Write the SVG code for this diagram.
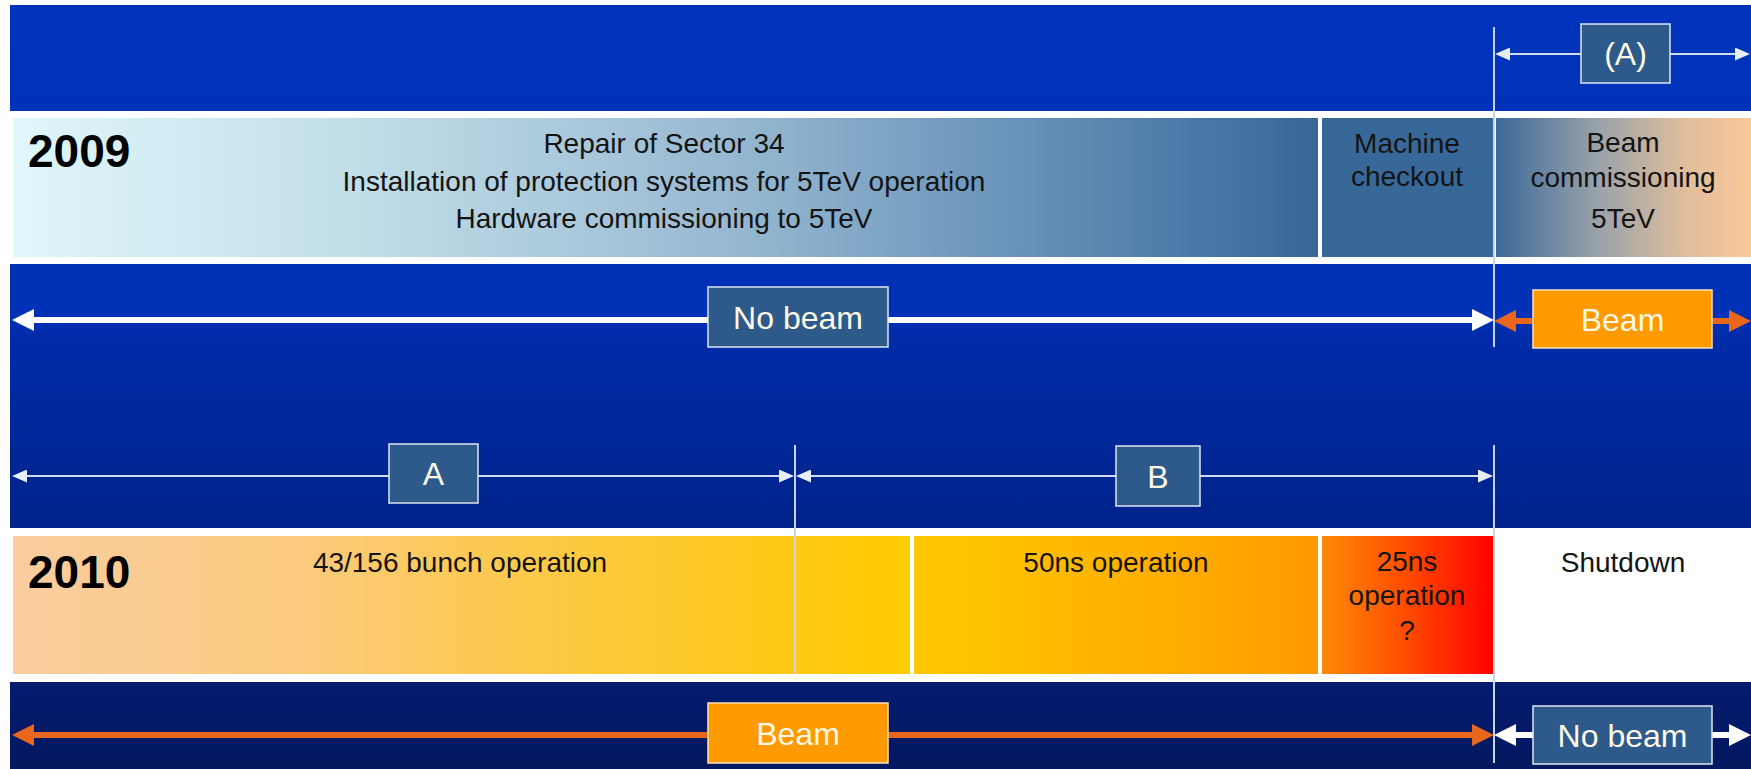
<svg xmlns="http://www.w3.org/2000/svg" width="1751" height="769" viewBox="0 0 1751 769">
<defs>
<style>
.t{font-family:"Liberation Sans",Arial,sans-serif;font-size:28px;fill:#141414;text-anchor:middle}
.yr{font-family:"Liberation Sans",Arial,sans-serif;font-size:46px;font-weight:bold;fill:#000}
.lb{font-family:"Liberation Sans",Arial,sans-serif;font-size:32px;fill:#fff8e6;text-anchor:middle}
.bx{fill:#2d5a8a;stroke:#dde6ee;stroke-width:1.5}
.ob{fill:#ff9a00;stroke:#ffe2b8;stroke-width:1.5}
.thin{stroke:#d0dcea;stroke-width:2;fill:none}
.vl{stroke:#c6d4e6;stroke-width:2}
.wt{stroke:#ffffff;stroke-width:6}
.or{stroke:#e9661d;stroke-width:6}
</style>
<linearGradient id="bg" x1="0" y1="0" x2="0" y2="1">
<stop offset="0" stop-color="#0033bb"/>
<stop offset="0.41" stop-color="#0031b6"/>
<stop offset="0.43" stop-color="#002caa"/>
<stop offset="0.62" stop-color="#002592"/>
<stop offset="0.69" stop-color="#01228a"/>
<stop offset="0.89" stop-color="#041c70"/>
<stop offset="1" stop-color="#04185f"/>
</linearGradient>
<linearGradient id="g1" x1="0" y1="0" x2="1" y2="0">
<stop offset="0" stop-color="#e0f7fb"/>
<stop offset="0.25" stop-color="#c3dfe9"/>
<stop offset="0.45" stop-color="#a7c6da"/>
<stop offset="0.6" stop-color="#8db1cc"/>
<stop offset="0.76" stop-color="#6b94bb"/>
<stop offset="0.91" stop-color="#4a78a6"/>
<stop offset="1" stop-color="#386797"/>
</linearGradient>
<linearGradient id="g3" x1="0" y1="0" x2="1" y2="0">
<stop offset="0" stop-color="#3c6a99"/>
<stop offset="0.4" stop-color="#9aa2aa"/>
<stop offset="0.75" stop-color="#e2be9c"/>
<stop offset="1" stop-color="#f8c898"/>
</linearGradient>
<linearGradient id="h1" x1="0" y1="0" x2="1" y2="0">
<stop offset="0" stop-color="#f9cd9f"/>
<stop offset="0.3" stop-color="#fbca80"/>
<stop offset="0.6" stop-color="#fdc945"/>
<stop offset="0.85" stop-color="#ffc918"/>
<stop offset="1" stop-color="#ffcc00"/>
</linearGradient>
<linearGradient id="h2" x1="0" y1="0" x2="1" y2="0">
<stop offset="0" stop-color="#ffc800"/>
<stop offset="0.5" stop-color="#ffb400"/>
<stop offset="1" stop-color="#ff9a00"/>
</linearGradient>
<linearGradient id="h3" x1="0" y1="0" x2="1" y2="0">
<stop offset="0" stop-color="#ff8a08"/>
<stop offset="0.5" stop-color="#ff4a00"/>
<stop offset="1" stop-color="#ff0000"/>
</linearGradient>
<marker id="ta" viewBox="0 0 15 13" refX="8" refY="6.5" markerWidth="15" markerHeight="13" markerUnits="userSpaceOnUse" orient="auto-start-reverse"><path d="M0,0 L15,6.5 L0,13 z" fill="#e6eef6"/></marker>
<marker id="wa" viewBox="0 0 22 22" refX="10" refY="11" markerWidth="22" markerHeight="22" markerUnits="userSpaceOnUse" orient="auto-start-reverse"><path d="M0,0 L22,11 L0,22 z" fill="#ffffff"/></marker>
<marker id="oa" viewBox="0 0 22 22" refX="10" refY="11" markerWidth="22" markerHeight="22" markerUnits="userSpaceOnUse" orient="auto-start-reverse"><path d="M0,0 L22,11 L0,22 z" fill="#e9661d"/></marker>
</defs>
<rect x="0" y="0" width="1751" height="769" fill="#ffffff"/>
<rect x="10" y="5" width="1741" height="764" fill="url(#bg)"/>

<g id="band2009">
<rect x="10" y="111" width="1741" height="153" fill="#ffffff"/>
<rect x="13" y="118" width="1305" height="139" fill="url(#g1)"/>
<rect x="1322" y="118" width="172" height="139" fill="#386898"/>
<rect x="1496" y="118" width="255" height="139" fill="url(#g3)"/>
<text class="yr" x="28" y="167">2009</text>
</g>
<g id="repair">
<text class="t" x="664" y="153">Repair of Sector 34</text>
<text class="t" x="664" y="191">Installation of protection systems for 5TeV operation</text>
<text class="t" x="664" y="228">Hardware commissioning to 5TeV</text>
</g>
<g id="checkout">
<text class="t" x="1407" y="153">Machine</text>
<text class="t" x="1407" y="186">checkout</text>
</g>
<g id="commissioning">
<text class="t" x="1623" y="152">Beam</text>
<text class="t" x="1623" y="187">commissioning</text>
<text class="t" x="1623" y="228">5TeV</text>
</g>

<g id="band2010">
<rect x="10" y="528" width="1741" height="154" fill="#ffffff"/>
<rect x="13" y="536" width="897" height="138" fill="url(#h1)"/>
<rect x="914" y="536" width="404" height="138" fill="url(#h2)"/>
<rect x="1322" y="536" width="172" height="138" fill="url(#h3)"/>
<text class="yr" x="28" y="588">2010</text>
</g>
<g id="bunch"><text class="t" x="460" y="572">43/156 bunch operation</text></g>
<g id="ns50"><text class="t" x="1116" y="572">50ns operation</text></g>
<g id="ns25">
<text class="t" x="1407" y="571">25ns</text>
<text class="t" x="1407" y="605">operation</text>
<text class="t" x="1407" y="640">?</text>
</g>
<g id="shutdown"><text class="t" x="1623" y="572">Shutdown</text></g>

<g id="connectors">
<line class="vl" x1="1494" y1="27" x2="1494" y2="347"/>
<line class="vl" x1="1494" y1="445" x2="1494" y2="763"/>
<line class="vl" x1="795" y1="445" x2="795" y2="674"/>
<line class="thin" x1="1502" y1="54" x2="1743" y2="54" marker-start="url(#ta)" marker-end="url(#ta)"/>
<line class="thin" x1="19" y1="476" x2="787" y2="476" marker-start="url(#ta)" marker-end="url(#ta)"/>
<line class="thin" x1="803" y1="476" x2="1486" y2="476" marker-start="url(#ta)" marker-end="url(#ta)"/>
<line class="wt" x1="24" y1="320" x2="1482" y2="320" marker-start="url(#wa)" marker-end="url(#wa)"/>
<line class="or" x1="1506" y1="321" x2="1739" y2="321" marker-start="url(#oa)" marker-end="url(#oa)"/>
<line class="or" x1="24" y1="735" x2="1482" y2="735" marker-start="url(#oa)" marker-end="url(#oa)"/>
<line class="wt" x1="1506" y1="735" x2="1739" y2="735" marker-start="url(#wa)" marker-end="url(#wa)"/>
</g>

<g id="labelA2009"><rect class="bx" x="1581" y="24" width="89" height="59"/><text class="lb" x="1625.5" y="65">(A)</text></g>
<g id="labelA"><rect class="bx" x="389" y="444" width="89" height="59"/><text class="lb" x="433.5" y="485">A</text></g>
<g id="labelB"><rect class="bx" x="1116" y="446" width="84" height="60"/><text class="lb" x="1158" y="487.5">B</text></g>
<g id="nobeam2009"><rect class="bx" x="708" y="287" width="180" height="60"/><text class="lb" x="798" y="328.5">No beam</text></g>
<g id="beam2009"><rect class="ob" x="1533" y="290" width="179" height="58"/><text class="lb" x="1622.5" y="330.5">Beam</text></g>
<g id="beam2010"><rect class="ob" x="708" y="703" width="180" height="60"/><text class="lb" x="798" y="744.5">Beam</text></g>
<g id="nobeam2010"><rect class="bx" x="1533" y="706" width="179" height="58"/><text class="lb" x="1622.5" y="746.5">No beam</text></g>
</svg>
